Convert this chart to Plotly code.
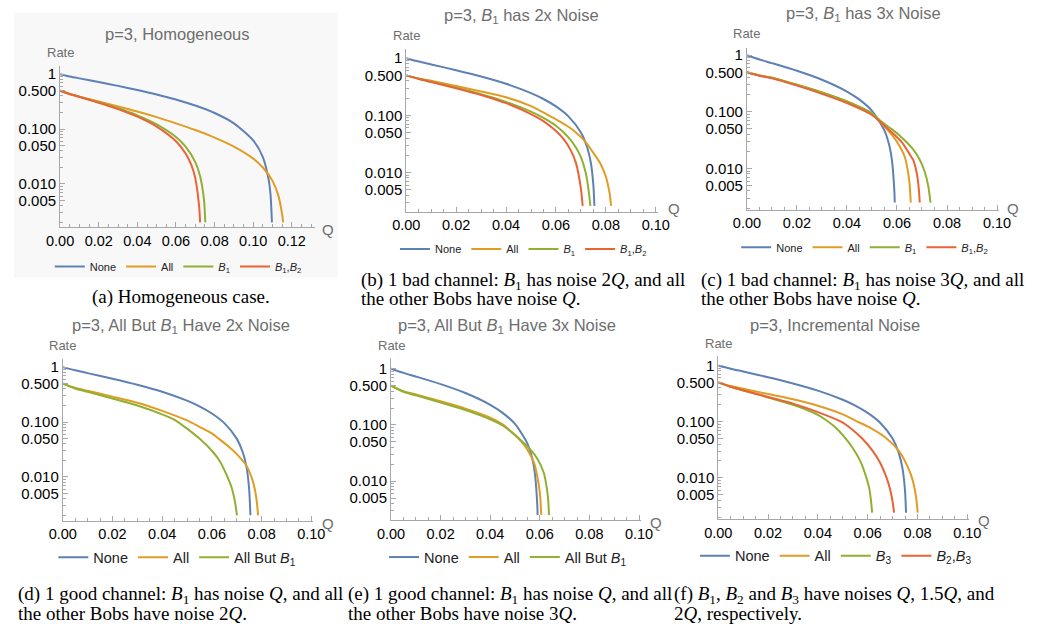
import plotly.graph_objects as go

W, H = 1041, 628
C_NONE, C_ALL, C_G, C_R = "#5E81B5", "#E19C24", "#8FB032", "#EB6235"
SANS = "Liberation Sans, Arial, sans-serif"
SERIF = "Liberation Serif, Times New Roman, serif"

# ---------------- data ----------------
# (a) Homogeneous
a_none_q = [0, 0.005, 0.01, 0.02, 0.03, 0.04, 0.05, 0.06, 0.07, 0.08, 0.09, 0.10, 0.105, 0.108, 0.109, 0.1097]
a_none_r = [1, 0.909, 0.838, 0.717, 0.611, 0.515, 0.427, 0.345, 0.268, 0.196, 0.127, 0.062, 0.031, 0.012, 0.0062, 0.002]
a_all_q = [0, 0.005, 0.01, 0.02, 0.03, 0.04, 0.05, 0.06, 0.07, 0.08, 0.09, 0.10, 0.105, 0.11, 0.113, 0.115, 0.1155]
a_all_r = [0.5, 0.43, 0.39, 0.318, 0.258, 0.209, 0.165, 0.127, 0.096, 0.070, 0.048, 0.029, 0.020, 0.0114, 0.0062, 0.0028, 0.002]
a_b1_q = [0, 0.005, 0.01, 0.02, 0.03, 0.04, 0.05, 0.06, 0.065, 0.07, 0.0725, 0.0745, 0.0752]
a_b1_r = [0.5, 0.437, 0.389, 0.308, 0.239, 0.178, 0.122, 0.0716, 0.0478, 0.025, 0.0138, 0.0052, 0.002]
a_b12_q = [0, 0.005, 0.01, 0.02, 0.03, 0.04, 0.05, 0.06, 0.065, 0.068, 0.070, 0.072, 0.0725]
a_b12_r = [0.5, 0.435, 0.384, 0.302, 0.231, 0.168, 0.111, 0.060, 0.036, 0.022, 0.0128, 0.0039, 0.002]

# (b) B1 has 2x noise
b_none_q = [0, 0.005, 0.01, 0.02, 0.03, 0.04, 0.05, 0.055, 0.06, 0.065, 0.07, 0.0725, 0.074, 0.075, 0.0754]
b_none_r = [1, 0.874, 0.778, 0.616, 0.478, 0.356, 0.245, 0.193, 0.143, 0.0956, 0.0499, 0.0276, 0.0146, 0.0059, 0.0026]
b_all_q = [0, 0.005, 0.01, 0.02, 0.03, 0.04, 0.05, 0.057, 0.06, 0.065, 0.068, 0.0714, 0.075, 0.078, 0.080, 0.0815, 0.0821]
b_all_r = [0.5, 0.44, 0.405, 0.325, 0.262, 0.207, 0.145, 0.10, 0.085, 0.063, 0.050, 0.036, 0.022, 0.0138, 0.0084, 0.0043, 0.0026]
b_b1_q = [0, 0.005, 0.01, 0.02, 0.03, 0.04, 0.05, 0.055, 0.06, 0.065, 0.068, 0.070, 0.072, 0.073, 0.0738]
b_b1_r = [0.5, 0.437, 0.387, 0.305, 0.235, 0.172, 0.116, 0.090, 0.0655, 0.041, 0.0273, 0.0185, 0.0096, 0.0052, 0.0026]
b_b12_q = [0, 0.005, 0.01, 0.02, 0.03, 0.04, 0.05, 0.055, 0.06, 0.063, 0.066, 0.068, 0.070, 0.0707]
b_b12_r = [0.5, 0.433, 0.383, 0.298, 0.227, 0.163, 0.105, 0.079, 0.053, 0.0386, 0.0241, 0.0147, 0.0052, 0.0026]

# (c) B1 has 3x noise
c_none_q = [0, 0.005, 0.01, 0.02, 0.03, 0.04, 0.045, 0.05, 0.055, 0.057, 0.058, 0.059, 0.0591]
c_none_r = [1, 0.842, 0.725, 0.531, 0.369, 0.228, 0.164, 0.104, 0.0466, 0.0247, 0.0138, 0.0036, 0.0025]
c_all_q = [0, 0.005, 0.01, 0.02, 0.03, 0.04, 0.05, 0.054, 0.058, 0.061, 0.063, 0.064, 0.065, 0.0655]
c_all_r = [0.5, 0.44, 0.40, 0.30, 0.22, 0.152, 0.093, 0.061, 0.039, 0.025, 0.0166, 0.011, 0.0056, 0.0025]
c_b1_q = [0, 0.005, 0.01, 0.02, 0.03, 0.04, 0.05, 0.054, 0.058, 0.062, 0.066, 0.069, 0.071, 0.0725, 0.0734]
c_b1_r = [0.5, 0.44, 0.40, 0.30, 0.219, 0.152, 0.094, 0.066, 0.049, 0.035, 0.023, 0.0145, 0.009, 0.0049, 0.0025]
c_b12_q = [0, 0.005, 0.01, 0.02, 0.03, 0.04, 0.05, 0.054, 0.058, 0.062, 0.065, 0.0665, 0.0675, 0.0683, 0.0688, 0.0691]
c_b12_r = [0.5, 0.435, 0.39, 0.29, 0.208, 0.143, 0.088, 0.062, 0.043, 0.029, 0.018, 0.014, 0.010, 0.0065, 0.004, 0.0025]

# (d) All but B1 have 2x noise
d_none_q = [0, 0.005, 0.01, 0.02, 0.03, 0.04, 0.05, 0.055, 0.06, 0.065, 0.07, 0.0725, 0.074, 0.075, 0.0755]
d_none_r = [1, 0.874, 0.778, 0.616, 0.478, 0.356, 0.245, 0.193, 0.143, 0.0956, 0.0499, 0.0276, 0.0146, 0.0059, 0.002]
d_all_q = [0, 0.005, 0.01, 0.02, 0.03, 0.04, 0.05, 0.055, 0.06, 0.0627, 0.066, 0.07, 0.0739, 0.0765, 0.0778, 0.0786]
d_all_r = [0.5, 0.42, 0.37, 0.29, 0.225, 0.160, 0.107, 0.082, 0.062, 0.05, 0.038, 0.026, 0.016, 0.0083, 0.0044, 0.002]
d_abb1_q = [0, 0.005, 0.01, 0.02, 0.03, 0.04, 0.045, 0.05, 0.055, 0.06, 0.063, 0.066, 0.068, 0.0693, 0.0701]
d_abb1_r = [0.5, 0.407, 0.355, 0.269, 0.2, 0.138, 0.11, 0.076, 0.050, 0.030, 0.020, 0.0107, 0.0063, 0.0035, 0.002]

# (e) All but B1 have 3x noise
e_none_q = [0, 0.005, 0.01, 0.02, 0.03, 0.04, 0.045, 0.05, 0.055, 0.057, 0.058, 0.059, 0.0591]
e_none_r = [1, 0.842, 0.725, 0.531, 0.369, 0.228, 0.164, 0.104, 0.0466, 0.0247, 0.0138, 0.0036, 0.0025]
e_all_q = [0, 0.005, 0.01, 0.02, 0.03, 0.04, 0.045, 0.0492, 0.052, 0.055, 0.0577, 0.059, 0.06, 0.0606]
e_all_r = [0.5, 0.398, 0.347, 0.263, 0.195, 0.135, 0.102, 0.0708, 0.0537, 0.0363, 0.0209, 0.012, 0.0063, 0.0025]
e_abb1_q = [0, 0.005, 0.01, 0.02, 0.03, 0.04, 0.045, 0.0492, 0.053, 0.0564, 0.059, 0.0616, 0.0629, 0.0634, 0.0637]
e_abb1_r = [0.5, 0.389, 0.335, 0.251, 0.184, 0.126, 0.0977, 0.0708, 0.0501, 0.0355, 0.0251, 0.0141, 0.0071, 0.0045, 0.0025]

# (f) Incremental noise
f_none_q = [0, 0.005, 0.01, 0.02, 0.03, 0.04, 0.05, 0.055, 0.06, 0.065, 0.07, 0.0725, 0.074, 0.075, 0.0754]
f_none_r = [1, 0.874, 0.778, 0.616, 0.478, 0.356, 0.245, 0.193, 0.143, 0.0956, 0.0499, 0.0276, 0.0146, 0.0059, 0.0024]
f_all_q = [0, 0.005, 0.01, 0.02, 0.03, 0.04, 0.05, 0.0559, 0.06, 0.0676, 0.0728, 0.076, 0.078, 0.0793, 0.0801]
f_all_r = [0.5, 0.43, 0.385, 0.31, 0.25, 0.192, 0.135, 0.10, 0.082, 0.05, 0.029, 0.016, 0.0093, 0.005, 0.0024]
f_b3_q = [0, 0.005, 0.01, 0.02, 0.03, 0.035, 0.04, 0.0435, 0.047, 0.0506, 0.054, 0.057, 0.0595, 0.0607, 0.0613, 0.0618]
f_b3_r = [0.5, 0.412, 0.359, 0.269, 0.20, 0.166, 0.132, 0.105, 0.0794, 0.0537, 0.0339, 0.020, 0.010, 0.0063, 0.004, 0.0024]
f_b23_q = [0, 0.005, 0.01, 0.02, 0.03, 0.04, 0.0493, 0.0535, 0.0578, 0.062, 0.065, 0.0676, 0.069, 0.0700, 0.0706]
f_b23_r = [0.5, 0.417, 0.363, 0.275, 0.209, 0.148, 0.10, 0.0741, 0.050, 0.0302, 0.0186, 0.010, 0.0063, 0.0038, 0.0024]

B = lambda n: "<i>B</i><sub>%s</sub>" % n
NAME_NONE, NAME_ALL = "None", "All"

ytick_vals = [0.005, 0.01, 0.05, 0.1, 0.5, 1]
ytick_text = ["0.005", "0.010", "0.050", "0.100", "0.500", "1"]
ytick_minor = [0.002, 0.003, 0.004, 0.006, 0.007, 0.008, 0.009,
               0.02, 0.03, 0.04, 0.06, 0.07, 0.08, 0.09,
               0.2, 0.3, 0.4, 0.6, 0.7, 0.8, 0.9]

# ---------------- panel layout (pixels) ----------------
panels = [
    dict(x0=47.3, x1=308.3, ytop=65, ybot=226.7, xmax=0.1318, ylo=-2.789, yhi=0.15,
         title="p=3, Homogeneous", tpos=(167, 33), rate=(47.5, 52), qpos=(322, 229),
         leg=(168.5, 266), legsize=11,
         series=[(a_none_q, a_none_r, C_NONE, NAME_NONE), (a_all_q, a_all_r, C_ALL, NAME_ALL),
                 (a_b1_q, a_b1_r, C_G, B(1)), (a_b12_q, a_b12_r, C_R, B(1) + "," + B(2))]),
    dict(x0=402.3, x1=660.0, ytop=48.3, ybot=211, xmax=0.1007, ylo=-2.687, yhi=0.157,
         title="p=3, " + B(1) + " has 2x Noise", tpos=(521, 15), rate=(402.7, 35), qpos=(677, 208),
         leg=(522.5, 248.3), legsize=11,
         series=[(b_none_q, b_none_r, C_NONE, NAME_NONE), (b_all_q, b_all_r, C_ALL, NAME_ALL),
                 (b_b1_q, b_b1_r, C_G, B(1)), (b_b12_q, b_b12_r, C_R, B(1) + "," + B(2))]),
    dict(x0=751.7, x1=1010.0, ytop=46.7, ybot=209, xmax=0.1007, ylo=-2.728, yhi=0.134,
         title="p=3, " + B(1) + " has 3x Noise", tpos=(871, 13.3), rate=(751.7, 32.7), qpos=(1025, 208),
         leg=(872.5, 246.7), legsize=11,
         series=[(c_none_q, c_none_r, C_NONE, NAME_NONE), (c_all_q, c_all_r, C_ALL, NAME_ALL),
                 (c_b1_q, c_b1_r, C_G, B(1)), (c_b12_q, c_b12_r, C_R, B(1) + "," + B(2))]),
    dict(x0=50.0, x1=306.7, ytop=358.3, ybot=520.7, xmax=0.1007, ylo=-2.80, yhi=0.153,
         title="p=3, All But " + B(1) + " Have 2x Noise", tpos=(171, 326), rate=(50, 345), qpos=(322, 523),
         leg=(167.5, 557.3), legsize=14.5,
         series=[(d_none_q, d_none_r, C_NONE, NAME_NONE), (d_all_q, d_all_r, C_ALL, NAME_ALL),
                 (d_abb1_q, d_abb1_r, C_G, "All But " + B(1))]),
    dict(x0=386.7, x1=642.8, ytop=357.7, ybot=520, xmax=0.1007, ylo=-2.694, yhi=0.188,
         title="p=3, All But " + B(1) + " Have 3x Noise", tpos=(506, 326), rate=(386.7, 345), qpos=(658, 522),
         leg=(506.7, 557), legsize=14.5,
         series=[(e_none_q, e_none_r, C_NONE, NAME_NONE), (e_all_q, e_all_r, C_ALL, NAME_ALL),
                 (e_abb1_q, e_abb1_r, C_G, "All But " + B(1))]),
    dict(x0=722.3, x1=979.5, ytop=356, ybot=519, xmax=0.1007, ylo=-2.735, yhi=0.16,
         title="p=3, Incremental Noise", tpos=(842.5, 325), rate=(722.3, 343.3), qpos=(995, 520.7),
         leg=(843, 555.7), legsize=14.5,
         series=[(f_none_q, f_none_r, C_NONE, NAME_NONE), (f_all_q, f_all_r, C_ALL, NAME_ALL),
                 (f_b3_q, f_b3_r, C_G, B(3)), (f_b23_q, f_b23_r, C_R, B(2) + "," + B(3))]),
]

captions = [
    (171, 296, "center", "(a) Homogeneous case."),
    (354, 280, "left", "(b) 1 bad channel: " + B(1) + " has noise 2<i>Q</i>, and all"),
    (354, 298, "left", "the other Bobs have noise <i>Q</i>."),
    (703, 280, "left", "(c) 1 bad channel: " + B(1) + " has noise 3<i>Q</i>, and all"),
    (703, 298, "left", "the other Bobs have noise <i>Q</i>."),
    (2, 595, "left", "(d) 1 good channel: " + B(1) + " has noise <i>Q</i>, and all"),
    (2, 613, "left", "the other Bobs have noise 2<i>Q</i>."),
    (340, 595, "left", "(e) 1 good channel: " + B(1) + " has noise <i>Q</i>, and all"),
    (340, 613, "left", "the other Bobs have noise 3<i>Q</i>."),
    (674.5, 595, "left", "(f) " + B(1) + ", " + B(2) + " and " + B(3) + " have noises <i>Q</i>, 1.5<i>Q</i>, and"),
    (674.5, 613, "left", "2<i>Q</i>, respectively."),
]

fig = go.Figure()
annotations = []
layout = dict(width=W, height=H, margin=dict(l=0, r=0, t=0, b=0),
              paper_bgcolor="white", plot_bgcolor="rgba(0,0,0,0)",
              font=dict(family=SANS, size=14, color="black"))

AXC = "#a8a8a8"
for i, p in enumerate(panels):
    n = i + 1
    sfx = "" if n == 1 else str(n)
    xa, ya = "x" + sfx, "y" + sfx
    lg = "legend" + sfx
    for q, r, col, name in p["series"]:
        fig.add_trace(go.Scatter(x=q, y=r, mode="lines", name=name,
                                 line=dict(color=col, width=2, shape="spline", smoothing=0.7),
                                 xaxis=xa, yaxis=ya, legend=lg, hoverinfo="skip"))
    layout["xaxis" + sfx] = dict(
        domain=[p["x0"] / W, p["x1"] / W], range=[0, p["xmax"]], anchor=ya,
        showgrid=False, zeroline=False, showline=True, linecolor=AXC, linewidth=1,
        ticks="inside", ticklen=5, tickcolor=AXC, tickwidth=1,
        tickmode="linear", tick0=0, dtick=0.02, tickformat=".2f",
        tickfont=dict(size=14.5, color="black"),
        minor=dict(ticks="inside", ticklen=3, tickcolor=AXC, dtick=0.005, tick0=0, showgrid=False))
    layout["yaxis" + sfx] = dict(
        domain=[1 - p["ybot"] / H, 1 - p["ytop"] / H], type="log", range=[p["ylo"], p["yhi"]],
        anchor=xa, showgrid=False, zeroline=False, showline=True, linecolor=AXC, linewidth=1,
        ticks="inside", ticklen=5, tickcolor=AXC, tickwidth=1,
        tickmode="array", tickvals=ytick_vals, ticktext=ytick_text,
        tickfont=dict(size=15, color="black"),
        minor=dict(ticks="inside", ticklen=3, tickcolor=AXC, tickmode="array",
                   tickvals=ytick_minor, showgrid=False))
    layout[lg] = dict(orientation="h", x=p["leg"][0] / W, y=1 - p["leg"][1] / H,
                      xanchor="center", yanchor="middle", bgcolor="rgba(0,0,0,0)",
                      font=dict(size=p["legsize"], color="#222", family=SANS),
                      itemwidth=30, traceorder="normal", itemclick=False, itemdoubleclick=False)
    annotations.append(dict(text=p["title"], x=p["tpos"][0] / W, y=1 - p["tpos"][1] / H,
                            xref="paper", yref="paper", showarrow=False, xanchor="center",
                            yanchor="middle", font=dict(size=16.5, color="#6e6e6e", family=SANS)))
    annotations.append(dict(text="Rate", x=p["rate"][0] / W, y=1 - p["rate"][1] / H,
                            xref="paper", yref="paper", showarrow=False, xanchor="center",
                            yanchor="middle", font=dict(size=13, color="#6e6e6e", family=SANS)))
    annotations.append(dict(text="Q", x=p["qpos"][0] / W, y=1 - p["qpos"][1] / H,
                            xref="paper", yref="paper", showarrow=False, xanchor="center",
                            yanchor="middle", font=dict(size=15, color="#6e6e6e", family=SANS)))

for cx, cy, anc, txt in captions:
    annotations.append(dict(text=txt, x=cx / W, y=1 - cy / H, xref="paper", yref="paper",
                            showarrow=False, xanchor=anc, yanchor="middle",
                            font=dict(size=19, color="black", family=SERIF)))

layout["annotations"] = annotations
layout["shapes"] = [dict(type="rect", xref="paper", yref="paper", x0=0, x1=332 / W,
                         y0=1 - 277 / H, y1=1 - 12 / H, fillcolor="#f8f8f8",
                         line=dict(width=0), layer="below")]
fig.update_layout(**layout)
fig.write_html("out.html")
